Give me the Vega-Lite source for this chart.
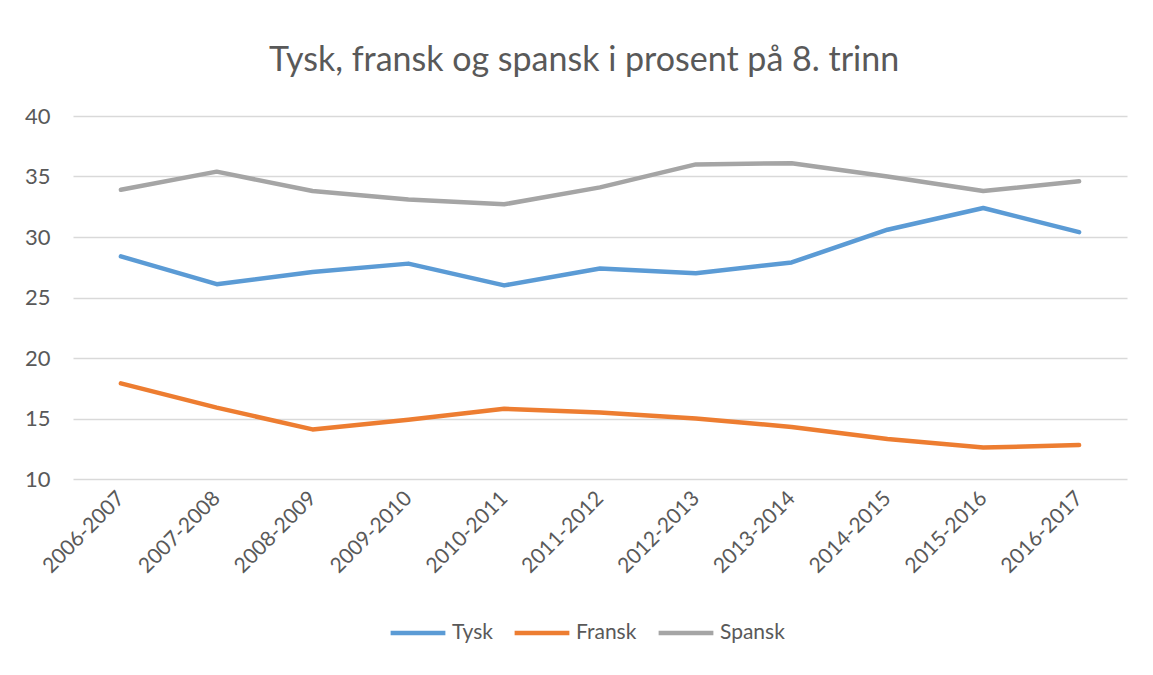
{
  "$schema": "https://vega.github.io/schema/vega-lite/v6.json",
  "width": 1054,
  "height": 363,
  "autosize": "none",
  "padding": {"left": 73, "top": 116, "right": 26, "bottom": 196},
  "background": "white",
  "title": {
    "text": "Tysk, fransk og spansk i prosent på 8. trinn",
    "font": "Lato",
    "fontSize": 34,
    "fontWeight": "normal",
    "color": "#595959",
    "anchor": "middle",
    "dx": -16,
    "offset": 27
  },
  "data": {
    "values": [
      {"year": "2006-2007", "fag": "Tysk", "prosent": 28.4},
      {"year": "2007-2008", "fag": "Tysk", "prosent": 26.1},
      {"year": "2008-2009", "fag": "Tysk", "prosent": 27.1},
      {"year": "2009-2010", "fag": "Tysk", "prosent": 27.8},
      {"year": "2010-2011", "fag": "Tysk", "prosent": 26.0},
      {"year": "2011-2012", "fag": "Tysk", "prosent": 27.4},
      {"year": "2012-2013", "fag": "Tysk", "prosent": 27.0},
      {"year": "2013-2014", "fag": "Tysk", "prosent": 27.9},
      {"year": "2014-2015", "fag": "Tysk", "prosent": 30.6},
      {"year": "2015-2016", "fag": "Tysk", "prosent": 32.4},
      {"year": "2016-2017", "fag": "Tysk", "prosent": 30.4},
      {"year": "2006-2007", "fag": "Fransk", "prosent": 17.9},
      {"year": "2007-2008", "fag": "Fransk", "prosent": 15.9},
      {"year": "2008-2009", "fag": "Fransk", "prosent": 14.1},
      {"year": "2009-2010", "fag": "Fransk", "prosent": 14.9},
      {"year": "2010-2011", "fag": "Fransk", "prosent": 15.8},
      {"year": "2011-2012", "fag": "Fransk", "prosent": 15.5},
      {"year": "2012-2013", "fag": "Fransk", "prosent": 15.0},
      {"year": "2013-2014", "fag": "Fransk", "prosent": 14.3},
      {"year": "2014-2015", "fag": "Fransk", "prosent": 13.3},
      {"year": "2015-2016", "fag": "Fransk", "prosent": 12.6},
      {"year": "2016-2017", "fag": "Fransk", "prosent": 12.8},
      {"year": "2006-2007", "fag": "Spansk", "prosent": 33.9},
      {"year": "2007-2008", "fag": "Spansk", "prosent": 35.4},
      {"year": "2008-2009", "fag": "Spansk", "prosent": 33.8},
      {"year": "2009-2010", "fag": "Spansk", "prosent": 33.1},
      {"year": "2010-2011", "fag": "Spansk", "prosent": 32.7},
      {"year": "2011-2012", "fag": "Spansk", "prosent": 34.1},
      {"year": "2012-2013", "fag": "Spansk", "prosent": 36.0},
      {"year": "2013-2014", "fag": "Spansk", "prosent": 36.1},
      {"year": "2014-2015", "fag": "Spansk", "prosent": 35.0},
      {"year": "2015-2016", "fag": "Spansk", "prosent": 33.8},
      {"year": "2016-2017", "fag": "Spansk", "prosent": 34.6}
    ]
  },
  "mark": {"type": "line", "strokeWidth": 4.5, "strokeCap": "round", "strokeJoin": "round"},
  "encoding": {
    "x": {
      "field": "year",
      "type": "ordinal",
      "scale": {"type": "point", "padding": 0.5},
      "axis": {
        "title": null,
        "labelAngle": -45,
        "labelAlign": "right",
        "labelBaseline": "middle",
        "labelFontSize": 21,
        "labelPadding": 16,
        "grid": false
      }
    },
    "y": {
      "field": "prosent",
      "type": "quantitative",
      "scale": {"domain": [10, 40], "nice": false, "zero": false},
      "axis": {"title": null, "values": [10, 15, 20, 25, 30, 35, 40], "labelPadding": 23, "grid": true}
    },
    "color": {
      "field": "fag",
      "type": "nominal",
      "scale": {"domain": ["Tysk", "Fransk", "Spansk"], "range": ["#5B9BD5", "#ED7D31", "#A5A5A5"]},
      "legend": {
        "title": null,
        "orient": "none",
        "legendX": 315,
        "legendY": 487,
        "direction": "horizontal",
        "symbolType": "stroke",
        "symbolSize": 3000,
        "symbolStrokeWidth": 4.5,
        "labelFontSize": 21,
        "labelOffset": 4,
        "columnPadding": 12
      }
    }
  },
  "config": {
    "view": {"stroke": null},
    "font": "Lato",
    "axis": {
      "labelFont": "Lato",
      "labelFontSize": 22,
      "labelColor": "#595959",
      "gridColor": "#D9D9D9",
      "gridWidth": 1.5,
      "domain": false,
      "ticks": false
    },
    "legend": {"labelFont": "Lato", "labelColor": "#595959"}
  }
}
